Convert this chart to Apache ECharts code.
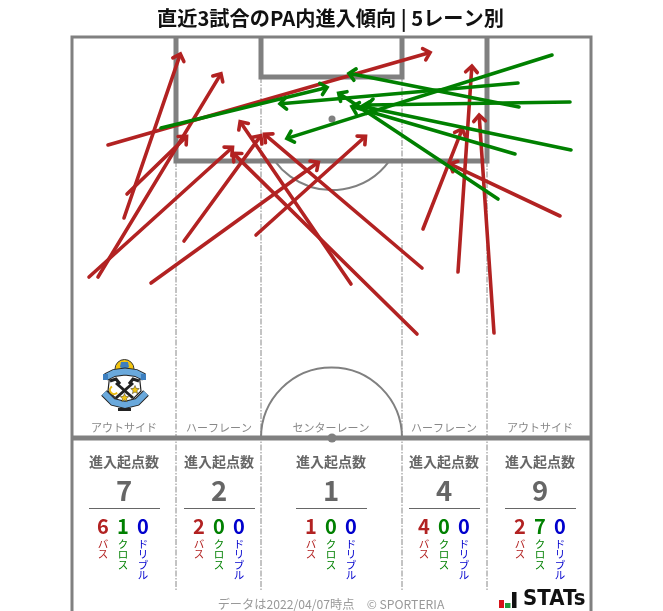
<!DOCTYPE html>
<html><head><meta charset="utf-8">
<style>html,body{margin:0;padding:0;background:#fff}#c{width:663px;height:611px}</style>
<script src="https://cdn.jsdelivr.net/npm/echarts@6/dist/echarts.min.js"></script>
</head><body><div id="c"></div>
<script>
const laneNames = ['アウトサイド','ハーフレーン','センターレーン','ハーフレーン','アウトサイド'];
const laneTotals = [7,2,1,4,9];
const passCounts = [6,2,1,4,2];
const crossCounts = [1,0,0,0,7];
const dribbleCounts = [0,0,0,0,0];
// [startX, startY, endX, endY] in the picture's own units
const passArrows = [
 [108,145,432,52],[124,218,181,52],[98,277,222,72],[127,194,188,135],[89,277,234,146],
 [184,241,262,134],[151,283,320,161],[256,235,367,135],[351,284,239,120],[417,334,232,152],
 [422,268,263,133],[423,229,463,127],[458,272,472,64],[494,333,479,113],[560,216,448,163]
];
const crossArrows = [
 [161,128,329,87],[552,55,285,139],[518,83,278,104],[570,102,365,105],
 [519,107,347,73],[571,150,360,106],[515,154,350,106],[498,199,337,92]
];
const FONT = '"Noto Sans CJK JP","Noto Sans",sans-serif';
const RED='#b22222', GREEN='#008000', BLUE='#0000cd', GRAY='#808080', TXT='#666666';

const laneCenters=[124,219,331,444,540];
function T(x,y,text,size,color,weight,extra){
  return Object.assign({type:'text',z:5,style:{x,y,text,fill:color,font:(weight||'normal')+' '+size+'px '+FONT,align:'center',verticalAlign:'middle'}},extra||{});
}
function L(x1,y1,x2,y2,w,c,dash,z){
  return {type:'line',z:z||1,shape:{x1,y1,x2,y2},style:{stroke:c,lineWidth:w,lineDash:dash||null}};
}
const g=[];
const dd=[6,1.5,1.5,1.5];
[[176,161],[261,77],[402,77],[487,161]].forEach(p=>g.push(L(p[0],p[1],p[0],590,1,'#888888',dd)));
// pitch
g.push({type:'arc',z:1,shape:{cx:332,cy:119,r:71,startAngle:0.63,endAngle:Math.PI-0.63},style:{stroke:GRAY,lineWidth:2,fill:null}});
g.push({type:'arc',z:1,shape:{cx:331.5,cy:438,r:70.5,startAngle:Math.PI,endAngle:2*Math.PI},style:{stroke:GRAY,lineWidth:2,fill:null}});
g.push({type:'polyline',z:1,shape:{points:[[72,611],[72,37],[591,37],[591,611]]},style:{stroke:GRAY,lineWidth:3,fill:null}});
g.push({type:'polyline',z:1,shape:{points:[[176,37],[176,161],[487,161],[487,37]]},style:{stroke:GRAY,lineWidth:5,fill:null,lineJoin:'miter'}});
g.push({type:'polyline',z:1,shape:{points:[[261,37],[261,77],[402,77],[402,37]]},style:{stroke:GRAY,lineWidth:5,fill:null,lineJoin:'miter'}});
g.push(L(72,438,591,438,5,GRAY));
g.push({type:'circle',z:1,shape:{cx:332,cy:119,r:3.5},style:{fill:GRAY}});
g.push({type:'circle',z:1,shape:{cx:332,cy:438,r:4.5},style:{fill:GRAY}});
// title & footer
g.push(T(330.5,18,'直近3試合のPA内進入傾向 | 5レーン別',20.2,'#111','bold'));
g.push(T(331,604,'データは2022/04/07時点　© SPORTERIA',12.2,'#999999'));
// table
laneCenters.forEach((cx,i)=>{
  g.push(T(cx,428,laneNames[i],11,'#888888'));
  g.push(T(cx,462,'進入起点数',14,TXT,'bold'));
  g.push(T(cx,491,String(laneTotals[i]),27.5,TXT,'bold'));
  g.push(L(cx-35,508.5,cx+36,508.5,1,TXT));
  [[passCounts,'バス',RED,-20],[crossCounts,'クロス',GREEN,0],[dribbleCounts,'ドリブル',BLUE,20]].forEach(a=>{
    const x=cx+a[3]-(i==0?1:0);
    g.push(T(x,526,String(a[0][i]),20,a[2],'bold'));
    Array.from(a[1]).forEach((ch,k)=>g.push(T(x,544+k*10.5,ch,10.5,a[2])));
  });
});
// STATs logo
g.push({type:'rect',z:5,shape:{x:499,y:600,width:5,height:8},style:{fill:'#d7131a'}});
g.push({type:'rect',z:5,shape:{x:505,y:603,width:5.5,height:5},style:{fill:'#1f9a3c'}});
g.push({type:'rect',z:5,shape:{x:512,y:592,width:4.5,height:16},style:{fill:'#111'}});
g.push({type:'text',z:5,x:523,y:600,scaleX:0.94,style:{x:0,y:0,text:'STATs',fill:'#111',font:'bold 21px "DejaVu Sans",sans-serif',align:'left',verticalAlign:'middle'}});
// crest
const cz=3;
g.push({type:'circle',z:cz,shape:{cx:124.5,cy:369,r:9.5},style:{fill:'#f2c511',stroke:'#333',lineWidth:1}});
g.push({type:'polygon',z:cz,shape:{points:[[121,362],[128,362],[129,367],[124.5,370],[120,367]]},style:{fill:'#3d7fbf'}});
g.push({type:'polygon',z:cz,shape:{points:[[110,373],[139,373],[141,391],[125,407],[108,391]]},style:{fill:'#fff',stroke:'#222',lineWidth:1.2}});
g.push({type:'polyline',z:cz,shape:{points:[[106,377],[114,373],[125,371.5],[136,373],[144,377]]},style:{stroke:'#222',lineWidth:8,fill:null}});
g.push({type:'polyline',z:cz,shape:{points:[[106,377],[114,373],[125,371.5],[136,373],[144,377]]},style:{stroke:'#6aa9dc',lineWidth:6,fill:null}});
g.push(L(103,377,108,377,6,'#3d7fbf',null,cz));
g.push(L(141,377,146,377,6,'#3d7fbf',null,cz));
g.push({type:'polyline',z:cz,shape:{points:[[104,393],[113,402],[125,405],[137,402],[146,393]]},style:{stroke:'#222',lineWidth:8,fill:null}});
g.push({type:'polyline',z:cz,shape:{points:[[104,393],[113,402],[125,405],[137,402],[146,393]]},style:{stroke:'#6aa9dc',lineWidth:6,fill:null}});
g.push(L(116,383,133,398,3,'#222',null,cz));
g.push(L(133,383,116,398,3,'#222',null,cz));
g.push({type:'polyline',z:cz,shape:{points:[[110,381],[116,379],[120,384]]},style:{stroke:'#222',lineWidth:3,fill:null}});
g.push({type:'polyline',z:cz,shape:{points:[[129,384],[133,379],[139,381]]},style:{stroke:'#222',lineWidth:3,fill:null}});
g.push({type:'arc',z:cz,shape:{cx:114,cy:390,r:4,startAngle:0.7,endAngle:4.2},style:{stroke:'#e8b90f',lineWidth:2,fill:null}});
function star(cx,cy,r){const p=[];for(let i=0;i<10;i++){const a=-Math.PI/2+i*Math.PI/5,q=i%2?r*0.45:r;p.push([cx+q*Math.cos(a),cy+q*Math.sin(a)]);}return p;}
g.push({type:'polygon',z:cz,shape:{points:star(135,390,4.5)},style:{fill:'#f2c511',stroke:'#333',lineWidth:.5}});
g.push({type:'polygon',z:cz,shape:{points:star(124.5,398,4.5)},style:{fill:'#f2c511',stroke:'#333',lineWidth:.5}});
g.push({type:'rect',z:cz,shape:{x:118,y:408,width:13,height:3},style:{fill:'#222'}});

function renderArrow(color){
  return function(params,api){
    const a=api.coord([api.value(0),api.value(1)]), b=api.coord([api.value(2),api.value(3)]);
    const ang=Math.atan2(b[1]-a[1],b[0]-a[0]), len=10, sp=0.62;
    const p1=[b[0]-len*Math.cos(ang-sp),b[1]-len*Math.sin(ang-sp)];
    const p2=[b[0]-len*Math.cos(ang+sp),b[1]-len*Math.sin(ang+sp)];
    const st={stroke:color,lineWidth:3.6,fill:null,lineCap:'round',lineJoin:'miter'};
    return {type:'group',children:[
      {type:'line',shape:{x1:a[0],y1:a[1],x2:b[0]-Math.cos(ang)*3,y2:b[1]-Math.sin(ang)*3},style:st},
      {type:'polyline',shape:{points:[p1,[b[0]-Math.cos(ang)*2,b[1]-Math.sin(ang)*2],p2]},style:st}
    ]};
  };
}
const chart=echarts.init(document.getElementById('c'),null,{renderer:'canvas'});
chart.setOption({
  animation:false,
  backgroundColor:'#fff',
  grid:{left:0,right:0,top:0,bottom:0},
  xAxis:{type:'value',min:0,max:663,show:false},
  yAxis:{type:'value',min:0,max:611,inverse:true,show:false},
  graphic:{elements:g},
  series:[
    {type:'custom',name:'パス',data:passArrows,renderItem:renderArrow(RED),z:3,silent:true},
    {type:'custom',name:'クロス',data:crossArrows,renderItem:renderArrow(GREEN),z:4,silent:true}
  ]
});
</script></body></html>
